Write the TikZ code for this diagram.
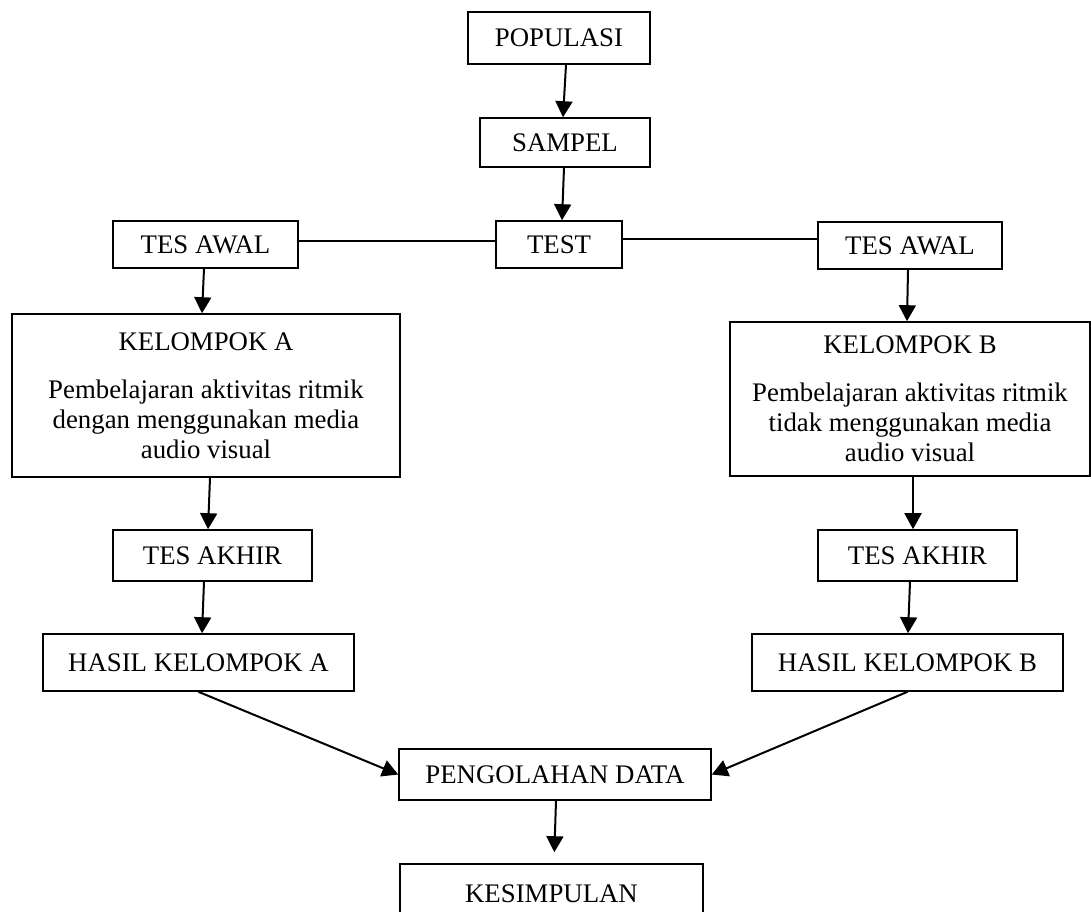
\documentclass[tikz,border=0pt]{standalone}
\usepackage{fontspec}
\setmainfont{Liberation Serif}
\usetikzlibrary{arrows.meta,positioning}
\tikzset{
  box/.style={draw=black, line width=0.8pt, inner sep=0pt, align=center,
    font=\fontsize{13.4}{15}\selectfont},
  arrow/.style={-{Triangle[length=8pt,width=8.5pt]}, line width=1pt},
  link/.style={line width=0.8pt},
}

\begin{document}
\begin{tikzpicture}[x=0.5pt,y=-0.5pt]
  \useasboundingbox (0,0) rectangle (1091,911);

  % top chain
  \node[box, minimum width=91pt, minimum height=26pt] (pop) at (559,38) {POPULASI};
  \node[box, minimum width=85pt, minimum height=24.5pt] (samp) at (565,142.5) {SAMPEL};
  \node[box, minimum width=63pt, minimum height=23.5pt] (test) at (559,244.5) {TEST};

  % pre tests
  \node[box, minimum width=92.5pt, minimum height=23.5pt] (awalA) at (205.5,244.5) {TES AWAL};
  \node[box, minimum width=92pt, minimum height=23.5pt] (awalB) at (910,245.5) {TES AWAL};

  % groups
  \node[box, minimum width=194pt, minimum height=81.5pt] (kelA) at (206,395.5)
    {KELOMPOK A\\[9pt]Pembelajaran aktivitas ritmik\\dengan menggunakan media\\audio visual};
  \node[box, minimum width=180pt, minimum height=77pt] (kelB) at (910,399)
    {KELOMPOK B\\[9pt]Pembelajaran aktivitas ritmik\\tidak menggunakan media\\audio visual};

  % post tests and results
  \node[box, minimum width=99.5pt, minimum height=25.5pt] (akhirA) at (212.5,555.5) {TES AKHIR};
  \node[box, minimum width=99.5pt, minimum height=25.5pt] (akhirB) at (917.5,555.5) {TES AKHIR};
  \node[box, minimum width=155.5pt, minimum height=28.5pt] (hasilA) at (198.5,662.5) {HASIL KELOMPOK A};
  \node[box, minimum width=155.5pt, minimum height=28.5pt] (hasilB) at (907.5,662.5) {HASIL KELOMPOK B};

  % bottom
  \node[box, minimum width=156pt, minimum height=25.5pt] (olah) at (555,774.5) {PENGOLAHAN DATA};
  \node[box, minimum width=151.5pt, minimum height=30pt] (simpul) at (551.5,894) {KESIMPULAN};

  % connectors
  \draw[arrow] ([xshift=3.5pt]pop.south) -- ([xshift=-1pt]samp.north);
  \draw[arrow] ([xshift=-0.5pt]samp.south) -- ([xshift=1.5pt]test.north);
  \draw[link] ([yshift=1.75pt]test.west) -- ([yshift=1.75pt]awalA.east);
  \draw[link] ([yshift=2.75pt]test.east) -- ([yshift=3.25pt]awalB.west);
  \draw[arrow] ([xshift=-0.75pt]awalA.south) -- ([xshift=-2pt]kelA.north);
  \draw[arrow] ([xshift=-1pt]awalB.south) -- ([xshift=-1.5pt]kelB.north);
  \draw[arrow] ([xshift=2pt]kelA.south) -- ([xshift=-2.25pt]akhirA.north);
  \draw[arrow] ([xshift=1.5pt]kelB.south) -- ([xshift=-2.25pt]akhirB.north);
  \draw[arrow] ([xshift=-4.25pt]akhirA.south) -- ([xshift=1.75pt]hasilA.north);
  \draw[arrow] ([xshift=-3.75pt]akhirB.south) -- ([xshift=0.25pt]hasilB.north);
  \draw[arrow] (hasilA.south) -- (olah.west);
  \draw[arrow] (hasilB.south) -- (olah.east);
  \draw[arrow, shorten >=5.5pt] ([xshift=0.5pt]olah.south) -- ([xshift=1.25pt]simpul.north);
\end{tikzpicture}
\end{document}
